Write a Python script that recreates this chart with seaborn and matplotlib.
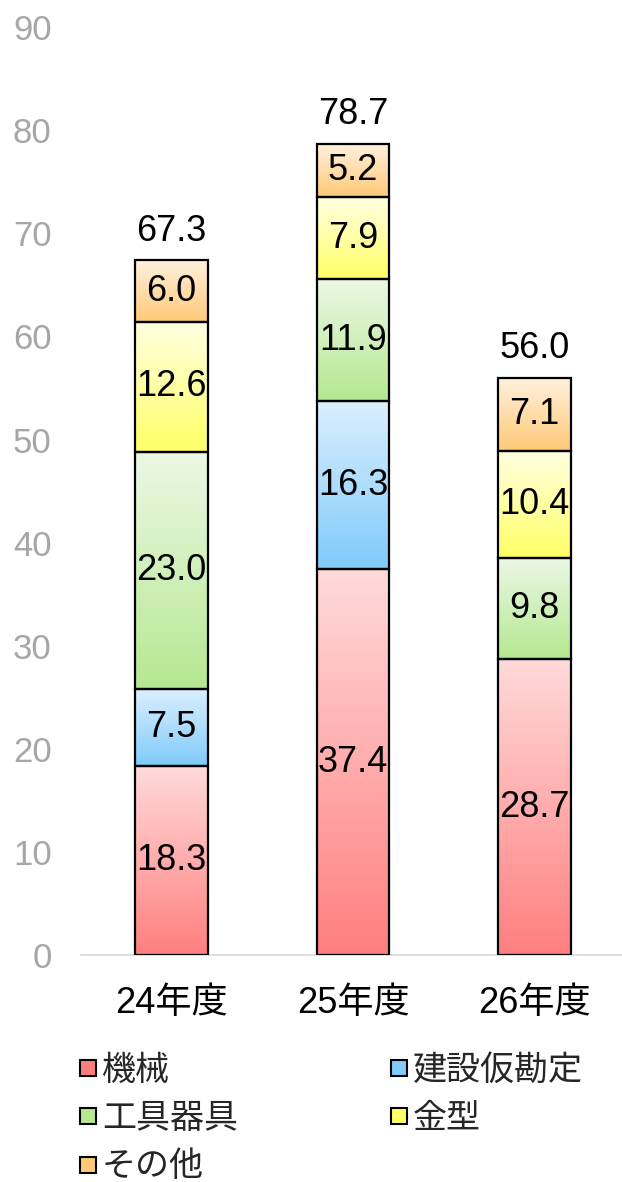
import numpy as np
import pandas as pd
import matplotlib
matplotlib.use("Agg")
import matplotlib.pyplot as plt
import seaborn as sns
from matplotlib.colors import to_rgb
from matplotlib.lines import Line2D

# data
years = ["24年度", "25年度", "26年度"]
categories = ["機械", "建設仮勘定", "工具器具", "金型", "その他"]
machinery = [18.3, 37.4, 28.7]
construction = [7.5, 16.3, 0.0]
tools = [23.0, 11.9, 9.8]
molds = [12.6, 7.9, 10.4]
other = [6.0, 5.2, 7.1]
totals = [67.3, 78.7, 56.0]
y_ticks = [0, 10, 20, 30, 40, 50, 60, 70, 80, 90]

# (bottom colour, top colour) for the vertical gradients
grad = {
    "機械": ("#FF7F7F", "#FFDADA"),
    "建設仮勘定": ("#7FCBFA", "#DCEFFF"),
    "工具器具": ("#B5E890", "#ECF8E6"),
    "金型": ("#FFFF66", "#FFFFE2"),
    "その他": ("#FFC977", "#FFF1DE"),
}

df = pd.DataFrame({"year": years, "機械": machinery, "建設仮勘定": construction,
                   "工具器具": tools, "金型": molds, "その他": other})

sns.set_style("white")
plt.rcParams["font.family"] = ["Liberation Sans", "Noto Sans CJK JP"]

fig = plt.figure(figsize=(6.22, 11.82), dpi=100)
ax = fig.add_axes([0.130, 0.192, 0.8696, 0.785])

bottom = np.zeros(len(years))
segments = []
for cat in categories:
    n_before = len(ax.patches)
    sns.barplot(data=df, x="year", y=cat, bottom=bottom, width=0.4,
                color=grad[cat][0], edgecolor="black", linewidth=1.6, ax=ax)
    for p, v in zip(ax.patches[n_before:], df[cat]):
        segments.append((p, cat, v))
    bottom = bottom + df[cat].to_numpy()

ax.set_xlim(-0.5, 2.48)
ax.set_ylim(0, 90)

# gradient fills clipped to each bar
for p, cat, v in segments:
    if v <= 0:
        continue
    c0, c1 = np.array(to_rgb(grad[cat][0])), np.array(to_rgb(grad[cat][1]))
    t = np.linspace(0, 1, 256)[:, None, None]
    img = c0 * (1 - t) + c1 * t
    x0, y0 = p.get_x(), p.get_y()
    im = ax.imshow(img, extent=(x0, x0 + p.get_width(), y0, y0 + p.get_height()),
                   origin="lower", aspect="auto", zorder=2, interpolation="bilinear")
    im.set_clip_path(p)
    p.set_facecolor("none")
    p.set_zorder(3)
    ax.text(x0 + p.get_width() / 2, y0 + v / 2, f"{v:.1f}", ha="center", va="center",
            fontsize=26, color="black", zorder=4)

ax.set_xlim(-0.5, 2.48)
ax.set_ylim(0, 90)

for i, tot in enumerate(totals):
    ax.annotate(f"{tot:.1f}", (i, bottom[i]), xytext=(0, 21), textcoords="offset points",
                ha="center", va="center", fontsize=26, color="black")

ax.set_yticks(y_ticks)
ax.tick_params(axis="y", length=0, pad=21, labelsize=25, labelcolor="#A6A6A6")
ax.tick_params(axis="x", length=0, pad=22, labelsize=26, labelcolor="black")
ax.set_xlabel("")
ax.set_ylabel("")
for s in ["top", "right", "left"]:
    ax.spines[s].set_visible(False)
ax.spines["bottom"].set_color("#D9D9D9")
ax.spines["bottom"].set_linewidth(1.2)

# legend
order = ["機械", "工具器具", "その他", "建設仮勘定", "金型"]
handles = [Line2D([], [], marker="s", linestyle="none", markersize=11,
                  markerfacecolor=grad[c][0], markeredgecolor="black", markeredgewidth=1.5)
           for c in order]
fig.legend(handles, order, loc="upper left", bbox_to_anchor=(0.128, 0.1075), ncol=2,
           frameon=False, fontsize=24.5, handlelength=0.5, handletextpad=0.15,
           labelspacing=0.5, columnspacing=4.5, borderaxespad=0, borderpad=0)

fig.savefig("out.png", dpi=100)
